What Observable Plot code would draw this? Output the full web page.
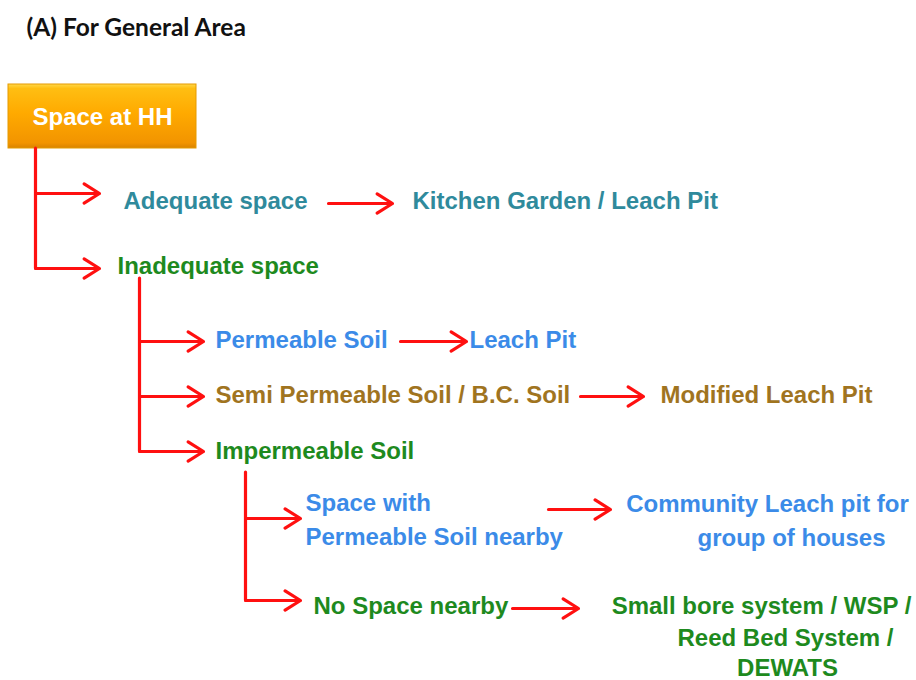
<!DOCTYPE html>
<html>
<head>
<meta charset="utf-8">
<script src="https://cdn.jsdelivr.net/npm/d3@7"></script>
<script src="https://cdn.jsdelivr.net/npm/@observablehq/plot@0.6"></script>
<style>
  html, body { margin: 0; padding: 0; background: #ffffff; }
  #chart { width: 916px; height: 680px; }
</style>
</head>
<body>
<div id="chart"></div>
<script>
// ---------- content ----------
const titleText = "(A) For General Area";
const rootLabel = "Space at HH";
const spaceOptions = ["Adequate space", "Inadequate space"];
const soilTypes = ["Permeable Soil", "Semi Permeable Soil / B.C. Soil", "Impermeable Soil"];
const nearbyOptions = ["Space with\nPermeable Soil nearby", "No Space nearby"];
const solutions = [
  "Kitchen Garden / Leach Pit",
  "Leach Pit",
  "Modified Leach Pit",
  "Community Leach pit for\ngroup of houses",
  "Small bore system / WSP /\nReed Bed System /\nDEWATS"
];

// ---------- layout (pixel positions of the diagram) ----------
const palette = {teal: "#2F8A9C", green: "#1E8A1E", blue: "#3B8BE8", brown: "#A0741F", red: "#FF1010"};

const boxLayout = [{x1: 8, x2: 196, y1: 84, y2: 148, cx: 102, cy: 117}];

// each label: lines' x positions, y positions, anchor, colour
const labelLayout = [
  {text: spaceOptions[0], xs: [123], ys: [201], anchor: "start", color: palette.teal},
  {text: spaceOptions[1], xs: [117], ys: [266], anchor: "start", color: palette.green},
  {text: solutions[0], xs: [412], ys: [201], anchor: "start", color: palette.teal},
  {text: soilTypes[0], xs: [215], ys: [340], anchor: "start", color: palette.blue},
  {text: solutions[1], xs: [469], ys: [340], anchor: "start", color: palette.blue},
  {text: soilTypes[1], xs: [215], ys: [395], anchor: "start", color: palette.brown},
  {text: solutions[2], xs: [660], ys: [395], anchor: "start", color: palette.brown},
  {text: soilTypes[2], xs: [215], ys: [451], anchor: "start", color: palette.green},
  {text: nearbyOptions[0], xs: [305, 305], ys: [503, 537], anchor: "start", color: palette.blue},
  {text: nearbyOptions[1], xs: [313], ys: [606], anchor: "start", color: palette.green},
  {text: solutions[3], xs: [767, 791], ys: [504, 538], anchor: "middle", color: palette.blue},
  {text: solutions[4], xs: [761, 785, 787], ys: [606, 638, 668], anchor: "middle", color: palette.green}
];

const textRows = labelLayout.flatMap(d =>
  d.text.split("\n").map((line, i) => ({line, x: d.xs[i], y: d.ys[i], anchor: d.anchor, color: d.color}))
);

const connectors = [
  {x: 35, y1: 148, y2: 268},
  {x: 139, y1: 278, y2: 451},
  {x: 245, y1: 472, y2: 600}
];

const arrowLayout = [
  {x1: 35, y1: 193, x2: 99, y2: 193},
  {x1: 35, y1: 268, x2: 99, y2: 268},
  {x1: 328, y1: 203, x2: 392, y2: 203},
  {x1: 139, y1: 341, x2: 203, y2: 341},
  {x1: 400, y1: 341, x2: 466, y2: 341},
  {x1: 139, y1: 396, x2: 203, y2: 396},
  {x1: 580, y1: 396, x2: 643, y2: 396},
  {x1: 139, y1: 451, x2: 203, y2: 451},
  {x1: 245, y1: 518, x2: 300, y2: 518},
  {x1: 548, y1: 509, x2: 610, y2: 509},
  {x1: 245, y1: 600, x2: 300, y2: 600},
  {x1: 512, y1: 608, x2: 578, y2: 608}
];

const labelFont = "'Liberation Sans', Arial, sans-serif";

const chart = Plot.plot({
  width: 916,
  height: 680,
  margin: 0,
  x: {type: "linear", domain: [0, 916], range: [0, 916], axis: null},
  y: {type: "linear", domain: [0, 680], range: [0, 680], axis: null},
  color: {type: "identity"},
  style: {background: "#ffffff", overflow: "visible"},
  marks: [
    // title
    Plot.text([titleText], {
      x: () => 26, y: () => 28, text: d => d,
      textAnchor: "start", lineAnchor: "middle",
      fontSize: 24.5, fontWeight: "bold", fontFamily: "Lato, 'Open Sans', sans-serif", fill: "#111111"
    }),
    // root box
    Plot.rect(boxLayout, {
      x1: "x1", x2: "x2", y1: "y1", y2: "y2",
      fill: "url(#orangeGrad)", stroke: "#E59A00", strokeWidth: 1, ariaLabel: "rootbox"
    }),
    Plot.text([rootLabel], {
      x: () => boxLayout[0].cx, y: () => boxLayout[0].cy, text: d => d,
      textAnchor: "middle", lineAnchor: "middle",
      fontSize: 24, fontWeight: "bold", fontFamily: labelFont, fill: "#FFFFFF", ariaLabel: "roottext"
    }),
    // connectors
    Plot.ruleX(connectors, {x: "x", y1: "y1", y2: "y2", stroke: palette.red, strokeWidth: 3.2, strokeLinecap: "round"}),
    Plot.arrow(arrowLayout, {
      x1: "x1", y1: "y1", x2: "x2", y2: "y2",
      stroke: palette.red, strokeWidth: 3.2, headLength: 8.5, headAngle: 64
    }),
    // labels
    Plot.text(textRows.filter(d => d.anchor === "start"), {
      x: "x", y: "y", text: "line", fill: "color",
      textAnchor: "start", lineAnchor: "middle",
      fontSize: 24, fontWeight: "bold", fontFamily: labelFont
    }),
    Plot.text(textRows.filter(d => d.anchor === "middle"), {
      x: "x", y: "y", text: "line", fill: "color",
      textAnchor: "middle", lineAnchor: "middle",
      fontSize: 24, fontWeight: "bold", fontFamily: labelFont
    })
  ]
});

// gradient + shadow definitions
const svg = d3.select(chart);
const defs = svg.insert("defs", ":first-child");
const grad = defs.append("linearGradient").attr("id", "orangeGrad")
  .attr("x1", 0).attr("y1", 0).attr("x2", 0).attr("y2", 1);
[["0%", "#FFD84A"], ["7%", "#FFBE12"], ["45%", "#FFAA00"], ["92%", "#F29400"], ["100%", "#D98300"]]
  .forEach(([o, c]) => grad.append("stop").attr("offset", o).attr("stop-color", c));
const f = defs.append("filter").attr("id", "boxShadow")
  .attr("x", "-10%").attr("y", "-10%").attr("width", "130%").attr("height", "140%");
f.append("feDropShadow").attr("dx", 2).attr("dy", 3).attr("stdDeviation", 2.5)
  .attr("flood-color", "#000").attr("flood-opacity", 0.35);
const tf = defs.append("filter").attr("id", "textGlow")
  .attr("x", "-10%").attr("y", "-30%").attr("width", "120%").attr("height", "160%");
tf.append("feDropShadow").attr("dx", 0).attr("dy", 0).attr("stdDeviation", 1.2)
  .attr("flood-color", "#FFF3C0").attr("flood-opacity", 0.8);
svg.select('g[aria-label="rootbox"]').attr("filter", "url(#boxShadow)");
svg.select('g[aria-label="roottext"]').attr("filter", "url(#textGlow)");

document.getElementById("chart").appendChild(chart);
</script>
</body>
</html>
